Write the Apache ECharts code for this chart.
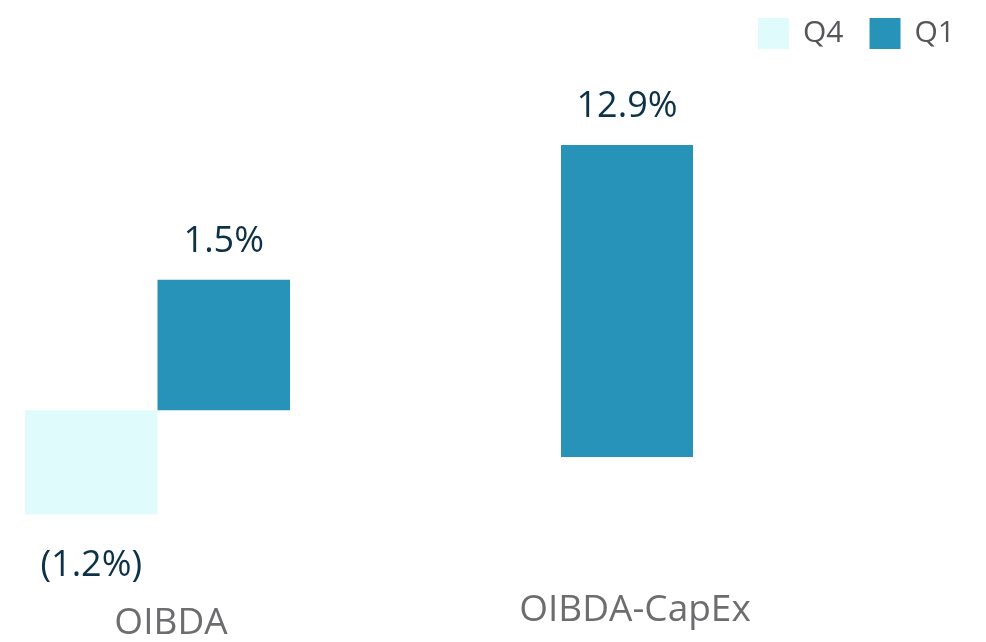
<!DOCTYPE html>
<html>
<head>
<meta charset="utf-8">
<script src="https://cdn.jsdelivr.net/npm/echarts@6/dist/echarts.min.js"></script>
<style>
  html, body { margin: 0; padding: 0; background: #fff; }
  #chart_container { width: 986px; height: 642px; }
</style>
</head>
<body>
<div id="chart_container"></div>
<script>
// data
const categories = ['OIBDA', 'OIBDA-CapEx']
const seriesNames = ['Q4', 'Q1']
const q4Values = [-1.2, null]
const q1Values = [1.5, 12.9]

const fontFamily = '"Open Sans", "Noto Sans", sans-serif'
const labelColor = '#0d3147'
const colorQ4 = '#e0fbfc'
const colorQ1 = '#2793b8'

function fmtPct(v) {
  const n = Math.abs(v).toFixed(1) + '%'
  return v < 0 ? '(' + n + ')' : n
}

function barLabel(position, distance) {
  return {
    show: true,
    position: position,
    distance: distance,
    color: labelColor,
    fontSize: 36,
    fontFamily: fontFamily,
    formatter: (p) => fmtPct(p.value),
  }
}

function xAxisFor(idx, margin, shift) {
  return {
    type: 'category',
    gridIndex: idx,
    data: [categories[idx]],
    axisLine: { show: false, onZero: false },
    axisTick: { show: false },
    splitLine: { show: false },
    axisLabel: {
      color: '#6d6d70',
      fontSize: 37,
      fontFamily: fontFamily,
      margin: margin,
      padding: [0, 0, 0, shift],
    },
  }
}

let chartPlot = echarts.init(document.getElementById('chart_container'))

const option = {
  animation: false,
  legend: {
    data: seriesNames,
    right: 26,
    top: 13,
    icon: 'rect',
    itemWidth: 31,
    itemHeight: 31,
    itemGap: 26,
    textStyle: {
      color: '#55555a',
      fontSize: 30,
      fontFamily: fontFamily,
      padding: [0, 0, 0, 9],
    },
  },
  grid: [
    { left: 25, width: 265, top: 149.5, height: 435 },
    { left: 561, width: 132, top: 94.2, height: 362.8 },
  ],
  xAxis: [xAxisFor(0, 21, 27), xAxisFor(1, 135, 16)],
  yAxis: [
    { type: 'value', gridIndex: 0, min: -2, max: 3, show: false },
    { type: 'value', gridIndex: 1, min: 0, max: 15, show: false },
  ],
  series: [
    {
      name: 'Q4',
      type: 'bar',
      xAxisIndex: 0,
      yAxisIndex: 0,
      data: [q4Values[0]],
      barGap: '0%',
      barCategoryGap: '0%',
      itemStyle: { color: colorQ4 },
      label: barLabel('bottom', 33),
    },
    {
      name: 'Q1',
      type: 'bar',
      xAxisIndex: 0,
      yAxisIndex: 0,
      data: [q1Values[0]],
      barGap: '0%',
      barCategoryGap: '0%',
      itemStyle: { color: colorQ1 },
      label: barLabel('top', 20),
    },
    {
      name: 'Q1',
      type: 'bar',
      xAxisIndex: 1,
      yAxisIndex: 1,
      data: [q1Values[1]],
      barCategoryGap: '0%',
      itemStyle: { color: colorQ1 },
      label: barLabel('top', 20),
    },
  ],
}

chartPlot.setOption(option)
</script>
</body>
</html>
